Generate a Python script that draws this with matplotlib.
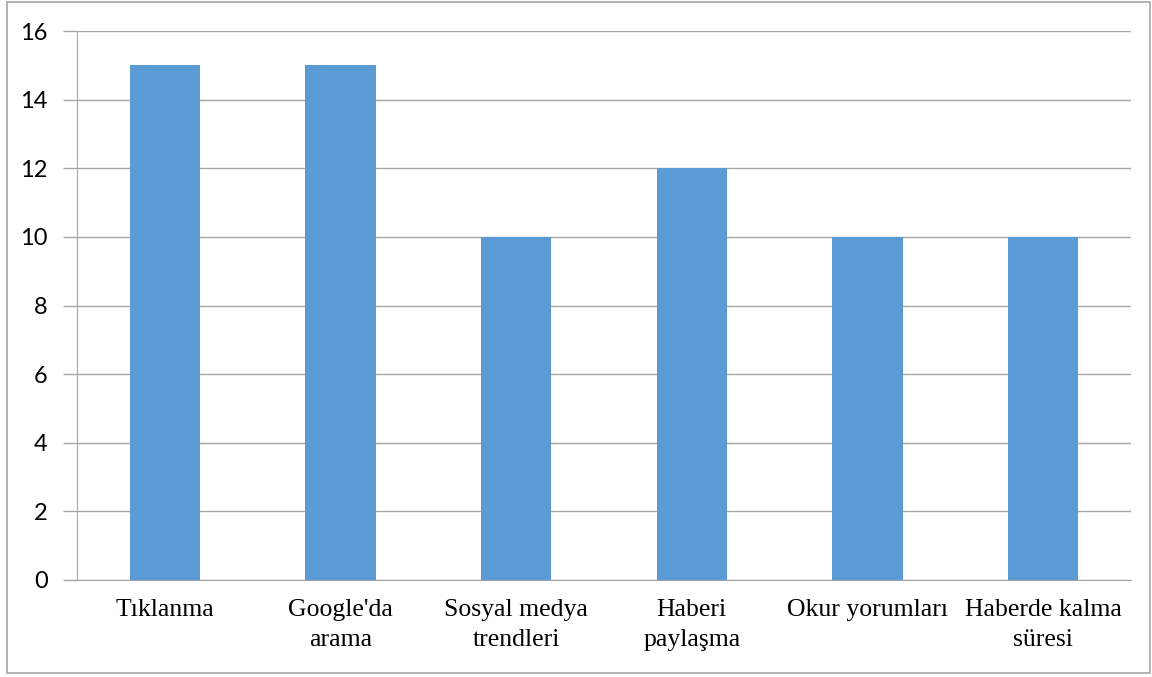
import matplotlib.pyplot as plt
from matplotlib.patches import Rectangle

categories = ["Tıklanma", "Google'da\narama", "Sosyal medya\ntrendleri",
              "Haberi\npaylaşma", "Okur yorumları", "Haberde kalma\nsüresi"]
values = [15, 15, 10, 12, 10, 10]
yticks = [0, 2, 4, 6, 8, 10, 12, 14, 16]

fig = plt.figure(figsize=(11.52, 6.77), dpi=100)
ax = fig.add_axes([77 / 1152, 1 - 580 / 677, (1131 - 77) / 1152, (580 - 31) / 677])

x = range(len(categories))
ax.bar(x, values, width=0.4, color="#5B9BD5", zorder=3)

ax.set_xlim(-0.5, len(categories) - 0.5)
ax.set_ylim(0, 16)
ax.set_yticks(yticks)
ax.set_yticklabels([str(v) for v in yticks], fontsize=17, fontfamily="Lato")
ax.set_xticks(list(x))
ax.set_xticklabels(categories, fontsize=18.5, fontfamily="Liberation Serif", linespacing=1.45)

ax.yaxis.grid(True, color="#A6A6A6", linewidth=1, zorder=0)
ax.tick_params(axis="y", length=10, width=1, color="#A6A6A6", pad=11)
ax.tick_params(axis="x", length=0, pad=14)
for side in ["top", "right"]:
    ax.spines[side].set_visible(False)
ax.spines["left"].set_color("#A6A6A6")
ax.spines["bottom"].set_color("#A6A6A6")

# outer chart border
fig.patches.append(Rectangle((7 / 1152, 1 - 673 / 677), 1143 / 1152, 671 / 677,
                             transform=fig.transFigure, fill=False,
                             edgecolor="#A6A6A6", linewidth=1.2))

fig.savefig("out.png", dpi=100)
